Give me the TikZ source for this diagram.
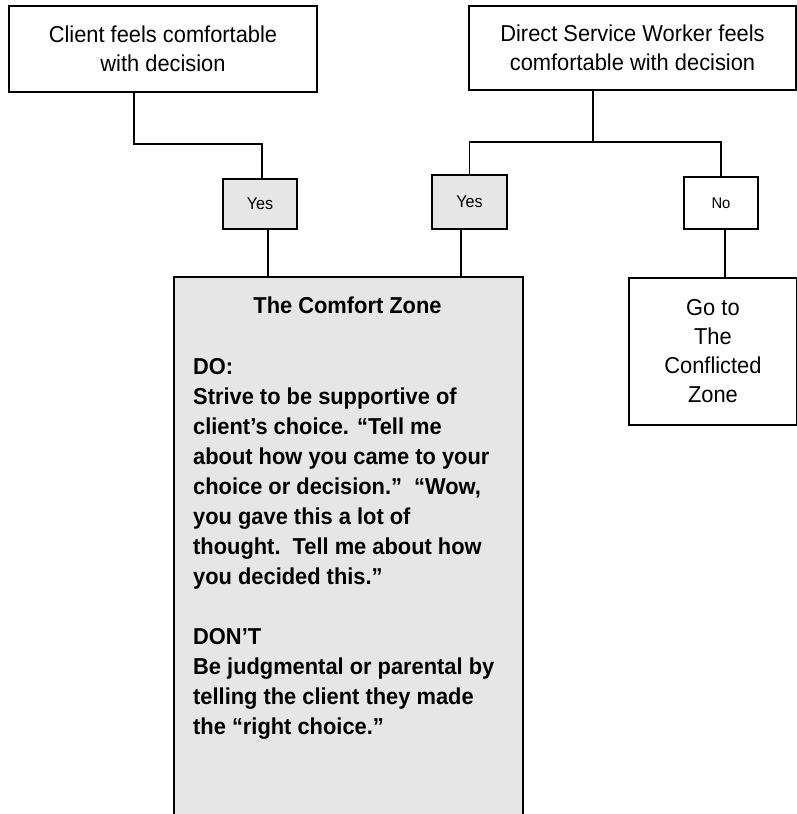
\documentclass[tikz,border=0pt]{standalone}
\usepackage{fontspec}
\setmainfont{Liberation Sans}[FakeStretch=0.95]
\begin{document}
\begin{tikzpicture}[x=1pt,y=-1pt,
  box/.style={draw=black,line width=1.9pt,inner sep=0pt,align=center},
  conn/.style={line width=1.9pt},
  greyfill/.style={fill=czgrey},
  big/.style={font=\fontsize{23}{29}\selectfont},
]
\definecolor{czgrey}{HTML}{E6E6E6}
\useasboundingbox (0,0) rectangle (797,814);
% top boxes
\node[box,big,minimum width=308pt,minimum height=86pt] (client) at (163,49)
  {Client feels comfortable\\with decision};
\node[box,big,minimum width=327pt,minimum height=84pt] (dsw) at (632.5,48)
  {Direct Service Worker feels\\comfortable with decision};
% yes / no boxes
\node[box,greyfill,font=\fontsize{17}{20}\selectfont,minimum width=74pt,minimum height=50pt] (yes1) at (260,204) {Yes};
\node[box,greyfill,font=\fontsize{17}{20}\selectfont,minimum width=75pt,minimum height=54pt] (yes2) at (469.5,202) {Yes};
\node[box,font=\fontsize{15.5}{18}\selectfont,minimum width=74pt,minimum height=52pt] (no) at (721,203) {No};
% comfort zone
\node[box,greyfill,minimum width=349pt,minimum height=540pt,anchor=north west] (cz) at (173,276) {};
\node[font=\fontsize{23}{29}\bfseries\selectfont,anchor=base,inner sep=0pt] (czt) at (347.5,313) {The Comfort Zone};
\node[font=\fontsize{23}{30}\bfseries\selectfont,anchor=north west,inner sep=0pt,align=left] (czb) at (193,358.5)
  {DO:\\
   Strive to be supportive of\\
   client’s choice. “Tell me\\
   about how you came to your\\
   choice or decision.”\ \ “Wow,\\
   you gave this a lot of\\
   thought.\ \ Tell me about how\\
   you decided this.”\\
   \mbox{}\\
   DON’T\\
   Be judgmental or parental by\\
   telling the client they made\\
   the “right choice.”};
% go to box
\node[box,font=\fontsize{23}{29}\selectfont,minimum width=168pt,minimum height=147pt,anchor=north west] (goto) at (628,277)
  {Go to\\The\\Conflicted\\Zone};
% connectors
\coordinate (j1) at (134,144);
\coordinate (j2) at (593,142);
\draw[conn] (client.south -| j1) -- (j1) -| (yes1.north -| 262,0);
\draw[conn] (yes1.south -| 268,0) -- (cz.north -| 268,0);
\draw[conn] (dsw.south -| j2) -- (j2);
\draw[conn] (yes2.north) |- (j2) -| (no.north);
\draw[conn] (yes2.south -| 461,0) -- (cz.north -| 461,0);
\draw[conn] (no.south -| 725,0) -- (goto.north -| 725,0);
\end{tikzpicture}
\end{document}
